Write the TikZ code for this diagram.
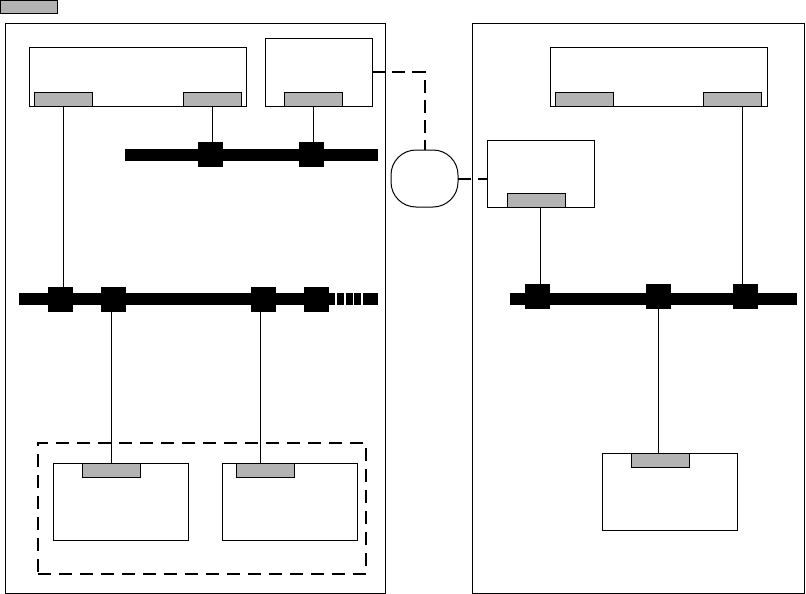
\documentclass[tikz,border=0pt]{standalone}
\usetikzlibrary{shapes.geometric}
\definecolor{portgray}{RGB}{179,179,179}
\begin{document}
\begin{tikzpicture}[x=1pt,y=-1pt,
  box/.style={draw=black,line width=1pt,fill=white,inner sep=0pt,outer sep=0pt,rectangle},
  port/.style={draw=black,line width=1pt,fill=portgray,inner sep=0pt,outer sep=0pt,rectangle,minimum width=58pt,minimum height=14pt},
  tap/.style={fill=black,draw=none,inner sep=0pt,outer sep=0pt,rectangle,minimum width=25pt,minimum height=25pt},
  busbar/.style={fill=black,draw=none},
  wire/.style={draw=black,line width=0.9pt},
  link/.style={draw=black,line width=2pt,dash pattern=on 13pt off 7pt},
  group/.style={draw=black,line width=1.2pt,dash pattern=on 13pt off 8pt,inner sep=0pt,outer sep=0pt,rectangle}]
\useasboundingbox (0,0) rectangle (806,594);
% legend tag
\node[port,minimum width=57pt,minimum height=13pt] (tag) at (29,7) {};
% panels
\node[box,minimum width=380pt,minimum height=569pt] (panL) at (195,308.5) {};
\node[box,minimum width=332pt,minimum height=569pt] (panR) at (638,308.5) {};
% left panel top
\node[box,minimum width=217pt,minimum height=58pt] (boxA) at (137.5,77) {};
\node[port] (gA1) at (63,99) {};
\node[port] (gA2) at (212,99) {};
\node[box,minimum width=107pt,minimum height=67pt] (boxB) at (318.5,72.5) {};
\node[port] (gB) at (313.5,99) {};
% bus 1
\fill[busbar] (125,148.5) rectangle (378,160.5);
\node[tap] (s1a) at (210,154.5) {};
\node[tap] (s1b) at (311.5,154.5) {};
\draw[wire] (gA2.south) -- (gA2.south |- s1a.north);
\draw[wire] (gB.south) -- (gB.south |- s1b.north);
% bus 2
\fill[busbar] (19,293) rectangle (378,305);
\foreach \gx in {336,345,353.5,362} \fill[white] (\gx-0.6,292.5) rectangle (\gx+0.6,305.5);
\node[tap] (s2a) at (60.5,299) {};
\node[tap] (s2b) at (113.5,299) {};
\node[tap] (s2c) at (263.5,299) {};
\node[tap] (s2d) at (316,299) {};
\draw[wire] (gA1.south) -- (gA1.south |- s2a.north);
% group
\node[group,minimum width=328pt,minimum height=131pt] (grp) at (202,508.5) {};
\node[box,minimum width=135pt,minimum height=77pt] (boxD) at (120.5,501.5) {};
\node[port] (gD) at (111,470) {};
\node[box,minimum width=135pt,minimum height=77pt] (boxE) at (289.5,501.5) {};
\node[port] (gE) at (265,470) {};
\draw[wire] ([xshift=-2pt]s2b.south) -- ([xshift=-2pt]s2b.south |- gD.north);
\draw[wire] ([xshift=-3pt]s2c.south) -- ([xshift=-3pt]s2c.south |- gE.north);
% cloud link
\node[rectangle,rounded corners=25pt,draw=black,line width=1pt,inner sep=0pt,outer sep=0pt,minimum width=67pt,minimum height=57pt] (cloud) at (424.5,178.5) {};
\draw[link] (boxB.east) -| (cloud.north);
% right panel
\node[box,minimum width=107pt,minimum height=67pt] (boxC) at (540.5,173.5) {};
\node[port] (gC) at (536,200) {};
\draw[link] (cloud.east) -- (cloud.east -| boxC.west);
\node[box,minimum width=217pt,minimum height=58pt] (boxG) at (658.5,77) {};
\node[port] (gG1) at (584,99) {};
\node[port] (gG2) at (732.5,99) {};
% bus 3
\fill[busbar] (510,293) rectangle (797,305);
\node[tap] (s3a) at (537.5,296.5) {};
\node[tap] (s3b) at (658.5,296.5) {};
\node[tap] (s3c) at (745.5,296.5) {};
\draw[wire] ([xshift=4pt]gC.south) -- ([xshift=4pt]gC.south |- s3a.north);
\draw[wire] ([xshift=9.5pt]gG2.south) -- ([xshift=9.5pt]gG2.south |- s3c.north);
\node[box,minimum width=135pt,minimum height=77pt] (boxF) at (669.5,491.5) {};
\node[port] (gF) at (660,460) {};
\draw[wire] (s3b.south) -- (s3b.south |- gF.north);
\end{tikzpicture}
\end{document}
